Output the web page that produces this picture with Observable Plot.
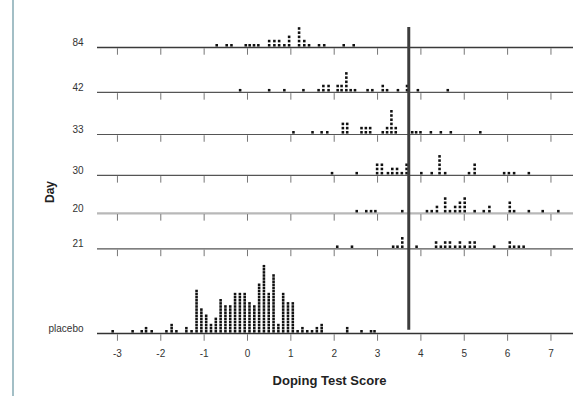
<!DOCTYPE html>
<html>
<head>
<meta charset="utf-8">
<script src="https://cdn.jsdelivr.net/npm/d3@7"></script>
<script src="https://cdn.jsdelivr.net/npm/@observablehq/plot@0.6"></script>
<style>
  html, body { margin: 0; padding: 0; background: #fff; }
  #wrap { position: relative; width: 578px; height: 396px; overflow: hidden; }
  #edge { position: absolute; left: 12px; top: 0; width: 2px; height: 396px; background: #a3bfc6; }
</style>
</head>
<body>
<div id="wrap"><div id="edge"></div></div>
<script>
// ---- data ----
const days = ["84", "42", "33", "30", "20", "21", "placebo"];
const threshold = 3.72;
const xTicks = [-3, -2, -1, 0, 1, 2, 3, 4, 5, 6, 7];

const d84x = [-0.71, -0.48, -0.37, -0.04, 0.05, 0.15, 0.25, 0.50, 0.62, 0.73, 0.85, 0.96, 1.19, 1.31, 1.42, 1.65, 1.77, 2.22, 2.45];
const d84n = [1, 1, 1, 1, 1, 1, 1, 2, 2, 2, 1, 3, 5, 2, 1, 1, 1, 1, 1];

const d42x = [-0.17, 0.5, 0.85, 1.29, 1.64, 1.75, 1.87, 2.08, 2.17, 2.28, 2.38, 2.48, 2.77, 2.88, 3.12, 3.22, 3.47, 3.68, 3.93, 4.62];
const d42n = [1, 1, 1, 1, 1, 2, 2, 2, 2, 5, 1, 1, 1, 1, 2, 1, 1, 2, 1, 1];

const d33x = [1.06, 1.5, 1.71, 1.84, 2.2, 2.3, 2.63, 2.73, 2.83, 3.12, 3.22, 3.32, 3.42, 3.8, 3.89, 3.99, 4.23, 4.46, 4.69, 5.37];
const d33n = [1, 1, 1, 1, 3, 3, 2, 2, 2, 1, 2, 6, 2, 1, 1, 1, 1, 1, 1, 1];

const d30x = [1.95, 2.52, 2.99, 3.1, 3.24, 3.34, 3.45, 3.56, 3.67, 4.01, 4.25, 4.43, 4.56, 5.11, 5.24, 5.92, 6.03, 6.15, 6.49];
const d30n = [1, 1, 3, 3, 1, 2, 2, 1, 3, 1, 1, 5, 1, 1, 3, 1, 1, 1, 1];

const d20x = [2.52, 2.74, 2.85, 2.95, 3.57, 4.14, 4.25, 4.37, 4.56, 4.67, 4.79, 4.9, 5.01, 5.24, 5.45, 5.58, 6.05, 6.15, 6.49, 6.81, 7.17];
const d20n = [1, 1, 1, 1, 1, 1, 1, 2, 4, 1, 2, 3, 4, 1, 1, 2, 3, 1, 1, 1, 1];

const d21x = [2.07, 2.41, 3.36, 3.46, 3.57, 3.9, 4.35, 4.46, 4.56, 4.67, 4.79, 4.9, 5.01, 5.13, 5.24, 5.69, 6.05, 6.15, 6.26, 6.37];
const d21n = [1, 1, 1, 1, 3, 1, 2, 1, 2, 2, 1, 2, 1, 2, 2, 1, 2, 1, 1, 1];

const placeboX = [-3.11, -2.65, -2.44, -2.34, -2.21, -1.87, -1.75, -1.64, -1.41, -1.29,
  -1.175, -1.064, -0.953, -0.842, -0.731, -0.62, -0.509, -0.398, -0.287, -0.176, -0.065,
  0.046, 0.157, 0.268, 0.379, 0.49, 0.601, 0.712, 0.823, 0.934, 1.045, 1.156, 1.267,
  1.378, 1.489, 1.6, 1.711, 2.3, 2.63, 2.85, 2.93];
const placeboN = [1, 1, 1, 2, 1, 1, 3, 1, 2, 1,
  14, 8, 6, 3, 5, 11, 9, 9, 13, 13, 13,
  10, 9, 16, 22, 13, 19, 3, 13, 10, 10, 1, 2,
  1, 1, 2, 3, 2, 1, 1, 1];

// ---- layout ----
const W = 578, H = 396, mTop = 20, mBottom = 63, mLeft = 97, mRight = 5;
const yTop = 7.66;
const pxPerUnit = (H - mTop - mBottom) / yTop;
const STEP_DAY = 4.2 / pxPerUnit;       // vertical spacing of stacked dots, day rows
const STEP_PLACEBO = 3.1 / pxPerUnit;   // vertical spacing in the placebo row
const rowPos = {"84": 7.0, "42": 5.9, "33": 4.87, "30": 3.87, "20": 2.94, "21": 2.07, "placebo": 0};

const rows = [
  {day: "84", xs: d84x, ns: d84n},
  {day: "42", xs: d42x, ns: d42n},
  {day: "33", xs: d33x, ns: d33n},
  {day: "30", xs: d30x, ns: d30n},
  {day: "20", xs: d20x, ns: d20n},
  {day: "21", xs: d21x, ns: d21n},
  {day: "placebo", xs: placeboX, ns: placeboN}
];
const dots = rows.flatMap(r => {
  const step = r.day === "placebo" ? STEP_PLACEBO : STEP_DAY;
  const base = 2.2 / pxPerUnit;
  return r.xs.flatMap((x, i) =>
    d3.range(r.ns[i]).map(k => ({day: r.day, x, y: rowPos[r.day] + base + k * step})));
});

const tickRows = days.flatMap(day => xTicks.map(x => ({day, x})));
const lineRows = days.map(day => ({day, y: rowPos[day]}));
const lineStroke = {"84": "#3a3a3a", "20": "#b8b8b8", "placebo": "#333"};
const lineWidth = {"84": 1.6, "20": 2.2, "placebo": 1.4};

const font = "'Liberation Sans', Arial, sans-serif";

const chart = Plot.plot({
  width: W, height: H,
  marginTop: mTop, marginBottom: mBottom, marginLeft: mLeft, marginRight: mRight,
  style: {fontFamily: font, fontSize: "10px", color: "#333", background: "transparent"},
  x: {domain: [-3.46, 7.52]},
  y: {domain: [0, yTop]},
  marks: [
    // per-row baselines
    Plot.ruleY(lineRows, {y: "y", stroke: d => lineStroke[d.day] ?? "#555",
      strokeWidth: d => lineWidth[d.day] ?? 1.1}),
    // tick marks under each row
    Plot.ruleX(tickRows, {x: "x", y1: d => rowPos[d.day] - 0.03, y2: d => rowPos[d.day] - 0.19,
      stroke: "#777", strokeWidth: 1}),
    // dots
    Plot.dot(dots, {x: "x", y: "y", symbol: "square", r: 1.45, fill: "#111", stroke: "none"}),
    // threshold line
    Plot.ruleX([threshold], {x: d => d, y1: 0.08, y2: 7.49, stroke: "#3d3d3d", strokeWidth: 3}),
    // axes
    Plot.axisX({ticks: xTicks, tickFormat: d => String(d), tickSize: 0, tickPadding: 16,
      fontSize: 10, fill: "#333", label: null}),
    Plot.axisY({ticks: days.map(d => rowPos[d]), tickFormat: v => days.find(d => rowPos[d] === v),
      tickSize: 0, tickPadding: 14, dy: -5, fontSize: 10, fill: "#333", label: null}),
    // axis titles
    Plot.text(["Day"], {frameAnchor: "left", text: d => d, rotate: -90, dx: -47, dy: 26,
      fontWeight: "bold", fontSize: 12, fill: "#222"}),
    Plot.text(["Doping Test Score"], {frameAnchor: "bottom", text: d => d, dx: -6, dy: 51,
      fontWeight: "bold", fontSize: 13, fill: "#222"})
  ]
});
document.getElementById("wrap").appendChild(chart);
chart.style.position = "absolute";
chart.style.left = "0";
chart.style.top = "0";
</script>
</body>
</html>
